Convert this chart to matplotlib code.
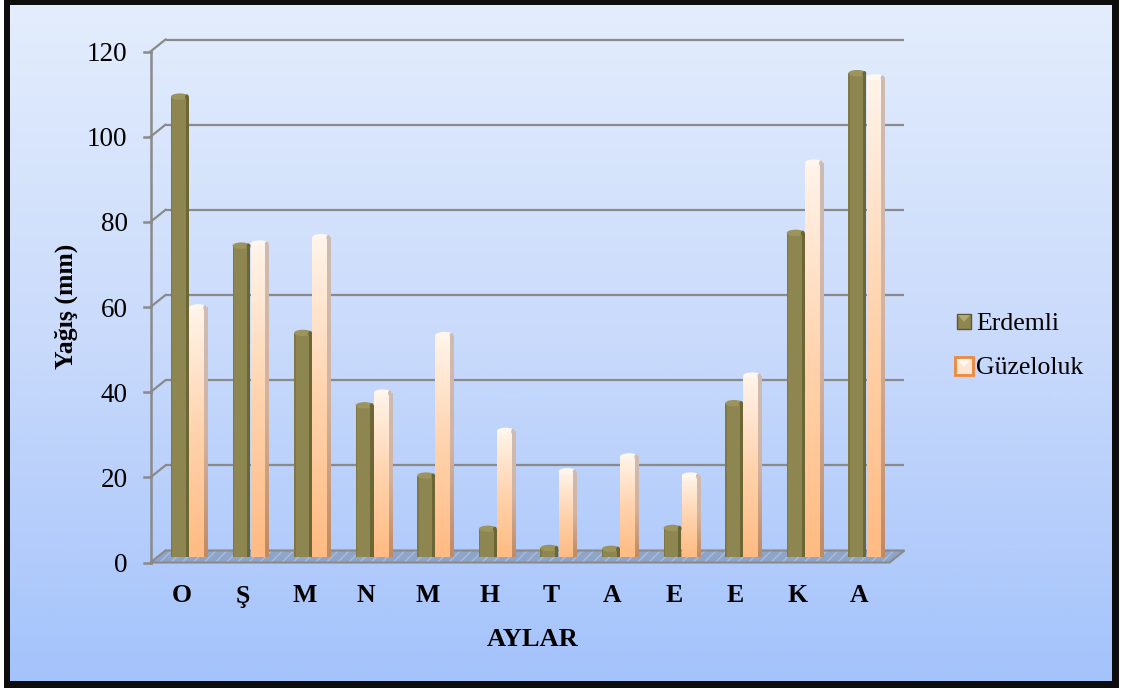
import numpy as np
import matplotlib
matplotlib.use("Agg")
import matplotlib.pyplot as plt
from matplotlib.patches import Rectangle, Polygon, Ellipse
from matplotlib.colors import LinearSegmentedColormap

plt.rcParams['font.family'] = ['Liberation Serif', 'DejaVu Serif']

# Monthly precipitation (mm), October through September
months = ['O', 'Ş', 'M', 'N', 'M', 'H', 'T', 'A', 'E', 'E', 'K', 'A']
erdemli = [108, 73, 52.5, 35.5, 19, 6.5, 2, 1.8, 6.7, 36, 76, 113.5]
guzeloluk = [58.5, 73.5, 75, 38.5, 52, 29.5, 20, 23.5, 19, 42.5, 92.5, 112.5]
series_names = ['Erdemli', 'Güzeloluk']
yticks = [0, 20, 40, 60, 80, 100, 120]

W, H = 1121, 688
fig = plt.figure(figsize=(W / 100, H / 100), dpi=100)
fig.patch.set_facecolor('white')


def px_rect(x0, y0, x1, y1):
    return [x0 / W, 1 - y1 / H, (x1 - x0) / W, (y1 - y0) / H]


# ---- background panel with frame ----
bg = fig.add_axes([0, 0, 1, 1])
bg.set_xlim(0, W)
bg.set_ylim(H, 0)
bg.axis('off')
bg.add_patch(Rectangle((4, 0), 1115, 688, facecolor='#0d0d0d', edgecolor='none', zorder=0))
bg_cmap = LinearSegmentedColormap.from_list('bgc', ['#e3edfd', '#c9dafb', '#a4c3fb'])
grad = np.linspace(0, 1, 256).reshape(-1, 1)
bg.imshow(grad, cmap=bg_cmap, extent=(10, 1112, 681, 5), aspect='auto', zorder=1)

# ---- plotting plane (mid-depth of the pseudo-3D box) ----
ax = fig.add_axes(px_rect(158, 45.5, 897, 556.5))
ax.set_xlim(-0.5, 11.5)
ax.set_ylim(0, 120)
ax.axis('off')
ax.patch.set_alpha(0)

ux = 739 / 12.0          # pixels per category
uy = 511 / 120.0         # pixels per mm
hx, hy = 7.5 / ux, 6.0 / uy   # half-depth offset of the box
grid_c = '#8a8a8a'

# back wall gridlines and side diagonals
for v in yticks[1:]:
    ax.plot([-0.5 + hx, 11.5 + hx], [v + hy, v + hy], color=grid_c, lw=1.6,
            zorder=1, clip_on=False, solid_capstyle='butt')
    ax.plot([-0.5 - hx, -0.5 + hx], [v - hy, v + hy], color=grid_c, lw=1.6,
            zorder=1, clip_on=False)

# floor: base fill, light diagonal stripes, outline
floor_pts = [(-0.5 - hx, -hy), (11.5 - hx, -hy), (11.5 + hx, hy), (-0.5 + hx, hy)]
ax.add_patch(Polygon(floor_pts, closed=True, facecolor='#8ea4c8', edgecolor='none',
                     zorder=1, clip_on=False))
ax.add_patch(Polygon(floor_pts, closed=True, facecolor='none', edgecolor='#a9bddc', lw=0,
                     hatch='///', zorder=1.05, clip_on=False))
ax.add_patch(Polygon(floor_pts, closed=True, facecolor='none', edgecolor=grid_c, lw=1.5,
                     zorder=1.1, clip_on=False))

# front vertical axis with ticks and labels
ax.plot([-0.5 - hx, -0.5 - hx], [-hy, 120 - hy], color=grid_c, lw=1.8, zorder=2, clip_on=False)
for v in yticks:
    ax.plot([-0.5 - hx - 7 / ux, -0.5 - hx], [v - hy, v - hy], color=grid_c, lw=1.8,
            zorder=2, clip_on=False)
    ax.text(-0.5 - hx - 23 / ux, v - hy, str(v), ha='right', va='center_baseline',
            fontsize=19.5, color='black', clip_on=False)

# category labels
for i, m in enumerate(months):
    ax.text(i - hx, -hy - 40 / uy, m, ha='center', va='baseline', fontsize=18.5,
            fontweight='bold', clip_on=False)

# ---- bars ----
w = 0.29
x = np.arange(len(months))
olive = '#8e8650'
olive_dark = '#6c6534'
olive_top = '#9c945c'
peach_cmap = LinearSegmentedColormap.from_list('peach', ['#ffbb82', '#ffd3ad', '#fff4ea'])
side_cmap = LinearSegmentedColormap.from_list('pside', ['#c08a62', '#d2b3a2', '#cdbcb4'])

ax.bar(x - w / 2, erdemli, width=w, color=olive, edgecolor='none', zorder=3)
ax.bar(x - 0.025, erdemli, width=0.05, color=olive_dark, edgecolor='none', zorder=3.2)
ax.bar(x - w + 0.012, erdemli, width=0.024, color='#7f7844', edgecolor='none', zorder=3.2)
for xi, v in zip(x, erdemli):
    ax.add_patch(Ellipse((xi - w / 2, v), w, 1.5, facecolor=olive_top, edgecolor='none',
                         zorder=3.3))
    ax.add_patch(Ellipse((xi - 0.03, v - 0.15), 0.06, 1.3, facecolor=olive_dark,
                         edgecolor='none', zorder=3.35))

guz_bars = ax.bar(x + w / 2 + 0.005, guzeloluk, width=w, color='#ffd0a8', edgecolor='none',
                  zorder=3)
for b, v in zip(guz_bars, guzeloluk):
    x0 = b.get_x()
    bw = b.get_width()
    im = ax.imshow(grad, cmap=peach_cmap, origin='lower',
                   extent=(x0, x0 + bw, 0, v), aspect='auto', zorder=3.1)
    im.set_clip_path(b)
    side = Rectangle((x0 + bw - 0.05, 0), 0.05, v, transform=ax.transData)
    ims = ax.imshow(grad, cmap=side_cmap, origin='lower',
                    extent=(x0 + bw - 0.05, x0 + bw, 0, v), aspect='auto', zorder=3.2)
    ims.set_clip_path(side)
    ax.add_patch(Ellipse((x0 + bw / 2, v), bw, 1.5, facecolor='#fff6ee', edgecolor='none',
                         zorder=3.3))
    ax.add_patch(Ellipse((x0 + bw - 0.03, v - 0.15), 0.06, 1.3, facecolor='#cdbcb4',
                         edgecolor='none', zorder=3.35))

ax.set_xlim(-0.5, 11.5)
ax.set_ylim(0, 120)

# ---- axis titles ----
bg.text(533, 640, 'AYLAR', ha='center', va='center', fontsize=19, fontweight='bold', zorder=5)
bg.text(66, 306, 'Yağış (mm)', ha='center', va='center', rotation=90, fontsize=18.5,
        fontweight='bold', zorder=5)

# ---- legend ----
bg.add_patch(Rectangle((957, 314), 14, 15, facecolor=olive, edgecolor='#5f582c', lw=1, zorder=5))
bg.add_patch(Polygon([(958, 315), (970, 315), (964, 322)], closed=True, facecolor='#b2aa72',
                     edgecolor='none', zorder=5.1))
bg.add_patch(Rectangle((955, 357), 18, 18, facecolor='#ffe6d2', edgecolor='#f0883a', lw=2,
                       zorder=5))
bg.add_patch(Polygon([(957, 359), (971, 359), (964, 367)], closed=True, facecolor='#fff8f2',
                     edgecolor='none', zorder=5.1))
bg.text(976, 321, series_names[0], ha='left', va='center_baseline', fontsize=18.5, zorder=5)
bg.text(976, 366, series_names[1], ha='left', va='center_baseline', fontsize=18.5, zorder=5)

fig.savefig('out.png', dpi=100)
